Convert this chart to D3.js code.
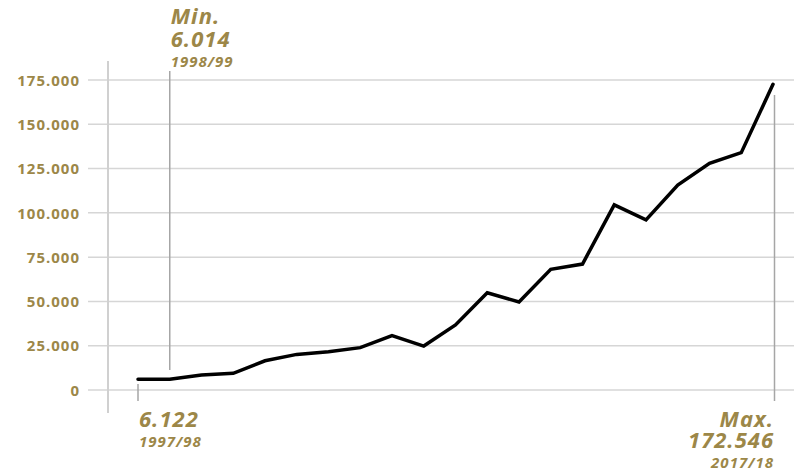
<!DOCTYPE html>
<html><head><meta charset="utf-8">
<script src="https://cdn.jsdelivr.net/npm/d3@7"></script>
<style>
html,body{margin:0;padding:0;background:#fff;}
svg{display:block;}
text{font-family:"Open Sans",sans-serif;fill:#9c8748;}
</style></head>
<body>
<svg id="c" width="803" height="471"></svg>
<script>
const years = ["1997/98","1998/99","1999/00","2000/01","2001/02","2002/03","2003/04","2004/05","2005/06","2006/07","2007/08","2008/09","2009/10","2010/11","2011/12","2012/13","2013/14","2014/15","2015/16","2016/17","2017/18"];
const values = [6122,6014,8500,9400,16500,20100,21600,23900,30700,24800,36700,54900,49700,68100,71100,104500,96000,115700,128000,134000,172546];
const yTicks = [0,25000,50000,75000,100000,125000,150000,175000];
const tickLabels = ["0","25.000","50.000","75.000","100.000","125.000","150.000","175.000"];
const minNote = {idx:1, title:"Min.", value:"6.014", year:"1998/99"};
const firstNote = {idx:0, value:"6.122", year:"1997/98"};
const maxNote = {idx:20, title:"Max.", value:"172.546", year:"2017/18"};

const svg = d3.select("#c");
const x = d3.scalePoint().domain(years).range([138, 773]);
const y = d3.scaleLinear().domain([0,175000]).range([390, 80]);

// gridlines
svg.append("g").selectAll("line").data(yTicks).join("line")
  .attr("x1",88).attr("x2",794)
  .attr("y1",d=>y(d)).attr("y2",d=>y(d))
  .attr("stroke","#d6d6d6").attr("stroke-width",1.5);

// y axis labels
const yAxis = d3.axisLeft(y).tickValues(yTicks).tickSize(0).tickPadding(0)
  .tickFormat((d,i)=>tickLabels[i]);
const ga = svg.append("g").attr("transform","translate(80,0)").call(yAxis);
ga.select(".domain").remove();
ga.selectAll("text").attr("font-family","'Open Sans',sans-serif").attr("font-weight","bold")
  .attr("font-size",15).attr("letter-spacing","1px").attr("fill","#9c8748").attr("dy","0.35em");

// y axis vertical line
svg.append("line").attr("x1",108).attr("x2",108).attr("y1",61).attr("y2",413)
  .attr("stroke","#d0d0d0").attr("stroke-width",2);

// annotation lines
svg.append("line").attr("x1",x(years[minNote.idx])).attr("x2",x(years[minNote.idx]))
  .attr("y1",71).attr("y2",370).attr("stroke","#a6a6a6").attr("stroke-width",1.5);
svg.append("line").attr("x1",x(years[firstNote.idx])).attr("x2",x(years[firstNote.idx]))
  .attr("y1",384).attr("y2",401).attr("stroke","#a6a6a6").attr("stroke-width",1.5);
svg.append("line").attr("x1",x(years[maxNote.idx])+1.5).attr("x2",x(years[maxNote.idx])+1.5)
  .attr("y1",95).attr("y2",401).attr("stroke","#a6a6a6").attr("stroke-width",1.5);

// line
const line = d3.line().x((d,i)=>x(years[i])).y(d=>y(d));
svg.append("path").datum(values).attr("d",line)
  .attr("fill","none").attr("stroke","#000").attr("stroke-width",3.5)
  .attr("stroke-linejoin","miter").attr("stroke-linecap","round");

// annotation blocks as single text elements with tspans
function note(xp, rows, anchor){
  const t = svg.append("text").attr("text-anchor",anchor)
    .attr("font-weight","bold").attr("font-style","italic");
  rows.forEach(r=>{
    t.append("tspan").attr("x",xp).attr("y",r.y).text(r.s)
      .attr("font-size",r.big?22:15).attr("letter-spacing",r.big?"1px":"1px");
  });
}
const mx = x(years[minNote.idx]) + 1;
note(mx, [{s:minNote.title,y:24,big:true},{s:minNote.value,y:47,big:true},{s:minNote.year,y:67}], "start");
const fx = x(years[firstNote.idx]) + 1;
note(fx, [{s:firstNote.value,y:427,big:true},{s:firstNote.year,y:447}], "start");
const xx = x(years[maxNote.idx]) + 1;
note(xx, [{s:maxNote.title,y:427,big:true},{s:maxNote.value,y:448,big:true},{s:maxNote.year,y:468}], "end");
</script>
</body></html>
